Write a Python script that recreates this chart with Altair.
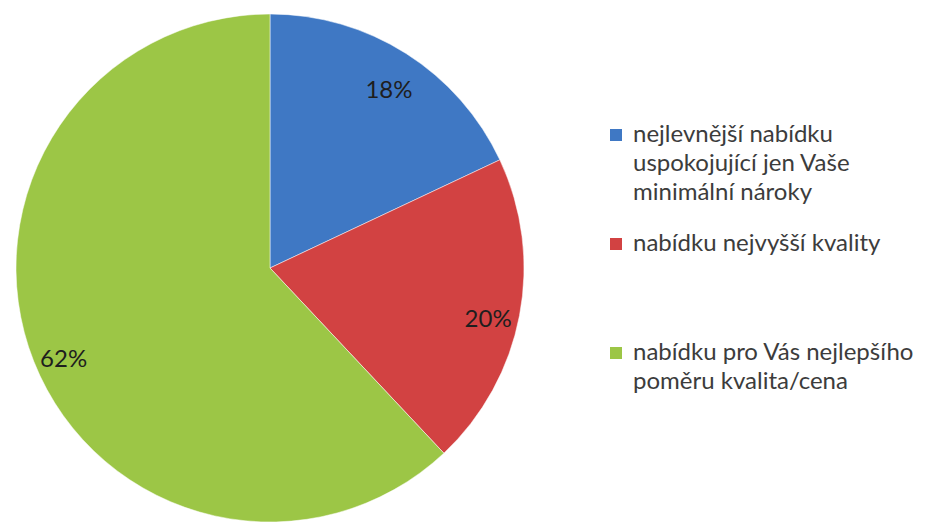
import altair as alt
import pandas as pd

categories = [
    "nejlevnější nabídku|uspokojující jen Vaše|minimální nároky",
    "nabídku nejvyšší kvality| | ",
    "nabídku pro Vás nejlepšího|poměru kvalita/cena",
]
values = [18, 20, 62]
labels = ["18%", "20%", "62%"]
colors = ["#3f78c4", "#d24242", "#9cc646"]

df = pd.DataFrame({"cat": categories, "val": values, "lab": labels, "order": [0, 1, 2]})

base = alt.Chart(df).encode(
    theta=alt.Theta("val:Q", stack=True),
    order=alt.Order("order:Q"),
)

pie = base.mark_arc(outerRadius=254, stroke="#ffffff", strokeWidth=0.5).encode(
    color=alt.Color(
        "cat:N",
        scale=alt.Scale(domain=categories, range=colors),
        sort=categories,
        legend=alt.Legend(
            title=None,
            orient="none",
            legendX=589,
            legendY=117,
            symbolType="M-1,-2.17H1V-0.17H-1Z",
            symbolSize=144,
            symbolStrokeWidth=0,
            labelFont="Lato",
            labelFontSize=24,
            labelColor="#3c3c3c",
            labelLimit=400,
            labelExpr="split(datum.label, '|')",
            labelBaseline="alphabetic",
            rowPadding=27,
            labelOffset=5,
        ),
    )
)

text = base.mark_text(radius=222, dy=10, font="Lato", fontSize=24, color="#1e1e1e").encode(
    text="lab:N"
)

chart = (
    (pie + text)
    .properties(width=510, height=510, padding={"left": 7, "top": 5, "right": 0, "bottom": 5})
    .configure_view(stroke=None)
    .configure(style={"guide-label": {"lineHeight": 29}})
)

chart.save("out.html", embed_options={"renderer": "svg", "actions": False})
